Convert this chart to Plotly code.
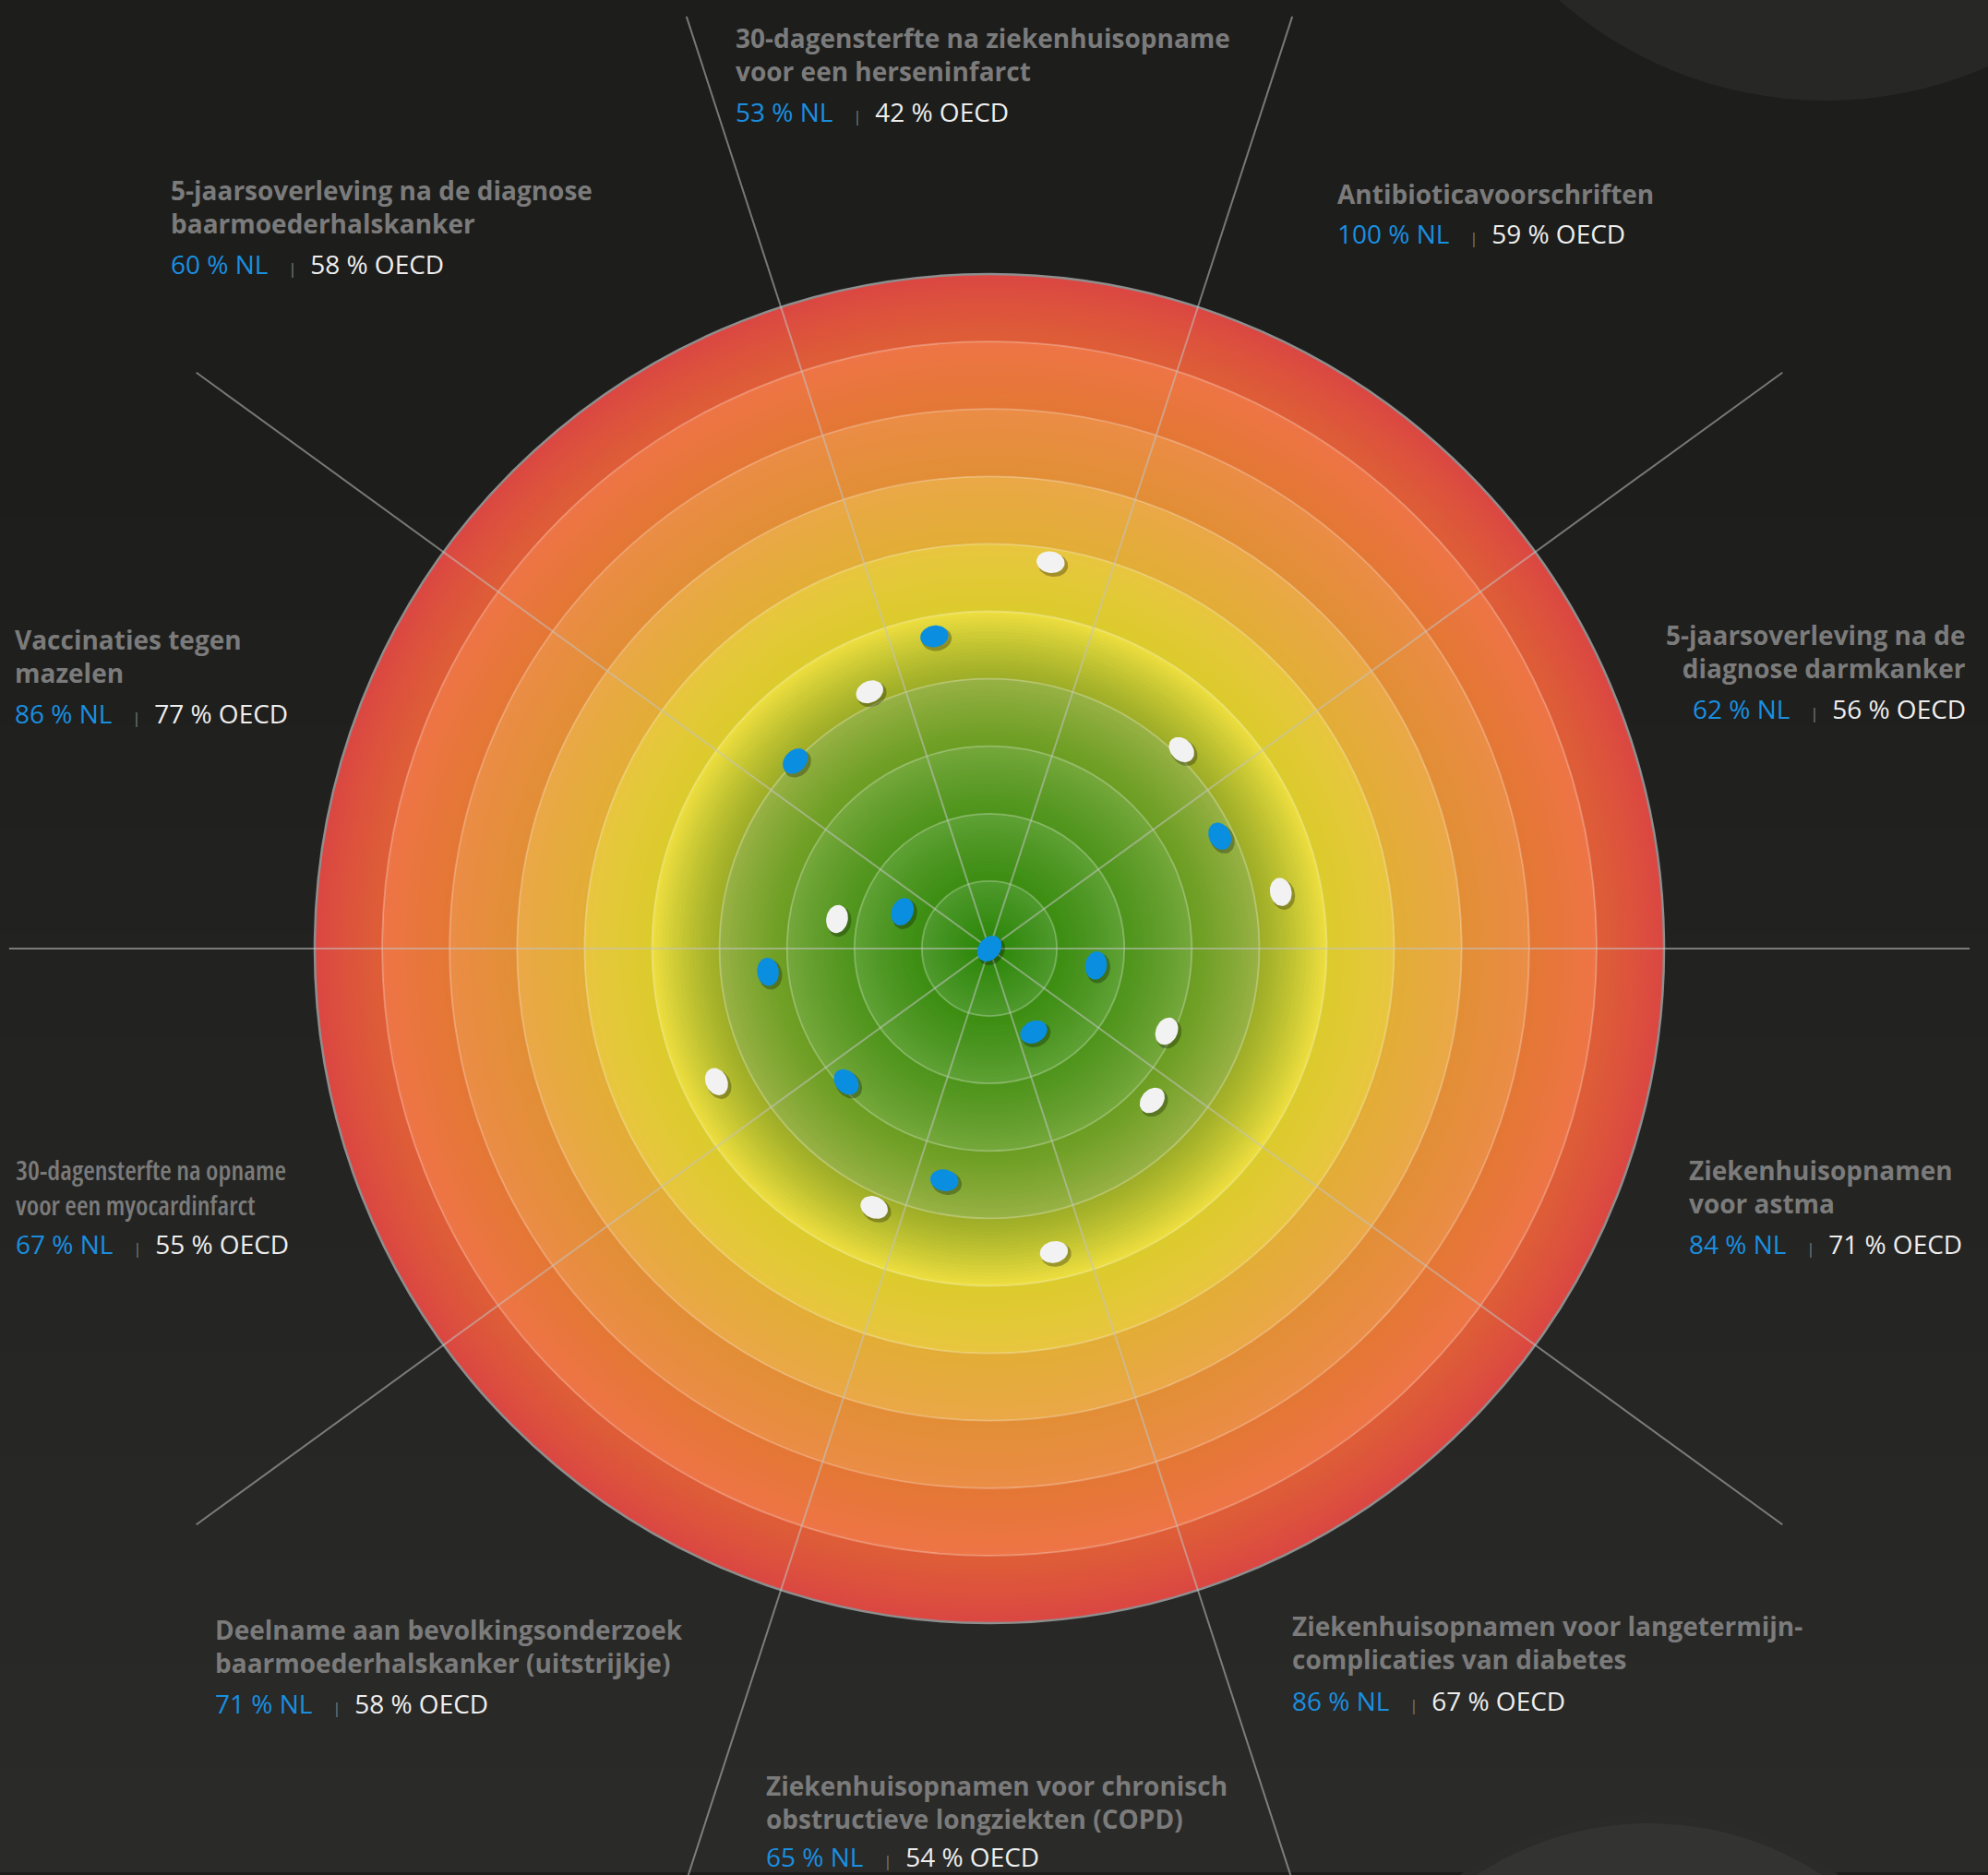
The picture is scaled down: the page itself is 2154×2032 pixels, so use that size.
import numpy as np
import plotly.graph_objects as go

# ---- data ----
titels = [
    "30-dagensterfte na ziekenhuisopname<br>voor een herseninfarct",
    "Antibioticavoorschriften",
    "5-jaarsoverleving na de<br>diagnose darmkanker",
    "Ziekenhuisopnamen<br>voor astma",
    "Ziekenhuisopnamen voor langetermijn-<br>complicaties van diabetes",
    "Ziekenhuisopnamen voor chronisch<br>obstructieve longziekten (COPD)",
    "Deelname aan bevolkingsonderzoek<br>baarmoederhalskanker (uitstrijkje)",
    "30-dagensterfte na opname<br>voor een myocardinfarct",
    "Vaccinaties tegen<br>mazelen",
    "5-jaarsoverleving na de diagnose<br>baarmoederhalskanker",
]
nl = [53, 100, 62, 84, 86, 65, 71, 67, 86, 60]
oecd = [42, 59, 56, 71, 67, 54, 58, 55, 77, 58]
# angle of each dot inside its sector (degrees, counter-clockwise from east)
hoek_nl = [100, 320, 26, 351, 298, 259, 223, 186, 157, 136]
hoek_oecd = [81, 46, 11, 335, 317, 282, 246, 206, 169, 115]
spaken = [0, 36, 72, 108, 144, 180, 216, 252, 288, 324]

# ---- layout helpers ----
W, H = 2154, 2032
CX, CY = 1072, 1028
PX = 7.31  # pixels per unit (100 units = outer circle)


def px2x(px):
    return (px - CX) / PX


def px2y(py):
    return (CY - py) / PX


def hex2rgb(h):
    h = h.lstrip("#")
    return [int(h[i:i + 2], 16) for i in (0, 2, 4)]


def mix(c1, c2, t):
    a, b = hex2rgb(c1), hex2rgb(c2)
    return "rgb(%d,%d,%d)" % tuple(round(a[i] + (b[i] - a[i]) * t) for i in range(3))


band_in = ["#2a8506", "#3c8d12", "#4e941b", "#6b9d22", "#9dad27",
           "#dccb2d", "#e2ad36", "#e28e36", "#e47735", "#de5e37"]
band_uit = ["#4e992c", "#5ea034", "#74a73b", "#97b144", "#ecdd3f",
            "#e8c63f", "#eaa847", "#eb8d46", "#ee7546", "#db4742"]

shapes = []

# background: slight vertical gradient
for i in range(14):
    y0 = 0 if i == 0 else 560 + (i - 1) * 113
    y1 = 560 if i == 0 else 560 + i * 113
    g = 29 + i
    shapes.append(dict(type="rect", xref="paper", yref="paper", x0=0, x1=1,
                       y0=1 - min(y1, H) / H, y1=1 - y0 / H, line_width=0,
                       fillcolor="rgb(%d,%d,%d)" % (g, g, g - 2), layer="below"))

# big decorative circles in the corners
for (px_, py_, rad, col) in [(1978, -329, 438, "#272725"),
                             (1787, 2318, 352, "#2b2b29"),
                             (1787, 2318, 342, "#333331")]:
    shapes.append(dict(type="circle", xref="x", yref="y",
                       x0=px2x(px_) - rad / PX, x1=px2x(px_) + rad / PX,
                       y0=px2y(py_) - rad / PX, y1=px2y(py_) + rad / PX,
                       line_width=0, fillcolor=col, layer="below"))

# coloured rings (radial gradient)
for r in np.arange(100, 0, -0.5):
    k = min(int((r - 1e-9) // 10), 9)
    f = (r - 10 * k) / 10
    shapes.append(dict(type="circle", xref="x", yref="y", x0=-r, x1=r, y0=-r, y1=r,
                       line_width=0, fillcolor=mix(band_in[k], band_uit[k], f ** 1.2),
                       layer="below"))

for r in range(10, 100, 10):
    shapes.append(dict(type="circle", xref="x", yref="y", x0=-r, x1=r, y0=-r, y1=r,
                       line=dict(color="rgba(255,255,255,0.28)", width=1.8),
                       fillcolor="rgba(0,0,0,0)", layer="below"))
shapes.append(dict(type="circle", xref="x", yref="y", x0=-100, x1=100, y0=-100, y1=100,
                   line=dict(color="#8e8e8e", width=2.5),
                   fillcolor="rgba(0,0,0,0)", layer="below"))

fig = go.Figure()

# spokes
sx, sy = [], []
for a in spaken:
    t = np.radians(a)
    sx += [0, 145.3 * np.cos(t), None]
    sy += [0, 145.3 * np.sin(t), None]
fig.add_trace(go.Scatter(x=sx, y=sy, mode="lines", hoverinfo="skip",
                         line=dict(color="rgba(195,195,195,0.55)", width=2)))


def ellipsen(waarden, hoeken, a=2.1, b=1.6, dx=0.0, dy=0.0):
    xs, ys = [], []
    s = np.linspace(0, 2 * np.pi, 41)
    for v, h in zip(waarden, hoeken):
        r = 100 - v
        t = np.radians(h)
        ux, uy = np.cos(t), np.sin(t)
        tx, ty = -uy, ux
        cx, cy = r * ux + dx, r * uy + dy
        xs += list(cx + a * np.cos(s) * tx + b * np.sin(s) * ux) + [None]
        ys += list(cy + a * np.cos(s) * ty + b * np.sin(s) * uy) + [None]
    return xs, ys


for waarden, hoeken, kleur in [(oecd, hoek_oecd, "#f2f2f2"), (nl, hoek_nl, "#0a8ee0")]:
    xs, ys = ellipsen(waarden, hoeken, a=2.25, b=1.75, dx=0.35, dy=-0.4)
    fig.add_trace(go.Scatter(x=xs, y=ys, mode="lines", fill="toself", hoverinfo="skip",
                             fillcolor="rgba(0,0,0,0.28)", line=dict(width=0)))
    xs, ys = ellipsen(waarden, hoeken)
    fig.add_trace(go.Scatter(x=xs, y=ys, mode="lines", fill="toself", hoverinfo="skip",
                             fillcolor=kleur, line=dict(width=0, color=kleur)))

# labels: x (px), anchor, centre y of title block, centre y of value line
lab_x = [795, 1447, 2132, 1828, 1398, 828, 231, 15, 14, 183]
lab_anchor = ["left", "left", "right", "left", "left", "left", "left", "left", "left", "left"]
lab_ty = [59, 210, 706, 1286, 1780, 1953, 1784, 1286, 711, 224]
lab_vy = [121, 253, 768, 1348, 1843, 2012, 1846, 1348, 773, 286]

annotations = []
for i, t in enumerate(titels):
    smal = i == 7
    if smal:
        t = "<br>".join("<span style='font-stretch:condensed'>%s</span>" % d
                        for d in t.split("<br>"))
    annotations.append(dict(
        x=lab_x[i] / W, y=1 - lab_ty[i] / H, xref="paper", yref="paper",
        xanchor=lab_anchor[i], yanchor="middle", align=lab_anchor[i], showarrow=False,
        text=t, font=dict(family="Open Sans, DejaVu Sans", size=29 if smal else 28,
                          color="#7b7b7b", weight=600 if smal else 700)))
    waarde = ("<span style='color:#1a8fe0'>%d %% NL</span>&nbsp;&nbsp;&nbsp;"
              "<span style='color:#7a7a7a;font-size:17px'>|</span>&nbsp;&nbsp;"
              "<span style='color:#eeeeee'>%d %% OECD</span>" % (nl[i], oecd[i]))
    annotations.append(dict(
        x=lab_x[i] / W, y=1 - lab_vy[i] / H, xref="paper", yref="paper",
        xanchor=lab_anchor[i], yanchor="middle", align=lab_anchor[i], showarrow=False,
        text=waarde, font=dict(family="Open Sans", size=28, color="#eeeeee")))

fig.update_layout(
    width=W, height=H,
    margin=dict(l=0, r=0, t=0, b=0),
    paper_bgcolor="#1d1d1b", plot_bgcolor="rgba(0,0,0,0)",
    showlegend=False,
    xaxis=dict(range=[px2x(0), px2x(W)], visible=False, fixedrange=True),
    yaxis=dict(range=[px2y(H), px2y(0)], visible=False, fixedrange=True),
    shapes=shapes,
    annotations=annotations,
)

fig.write_html("out.html", config={"displayModeBar": False},
               post_script="document.body.style.margin='0';document.body.style.overflow='hidden';")
